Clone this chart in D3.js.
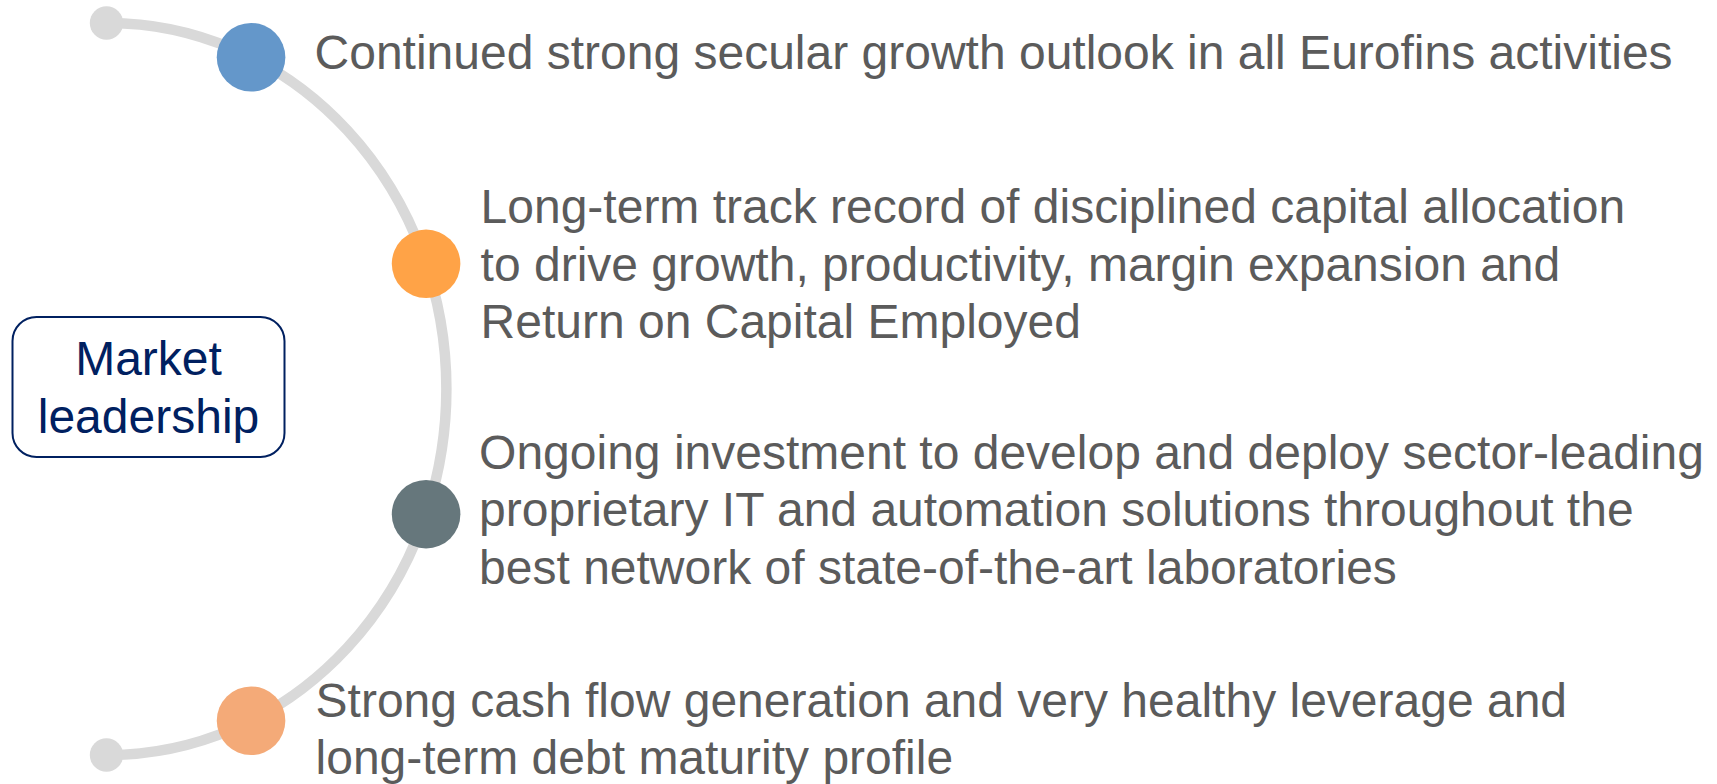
<!DOCTYPE html>
<html>
<head>
<meta charset="utf-8">
<script src="https://cdn.jsdelivr.net/npm/d3@7"></script>
<style>
    html, body { margin: 0; padding: 0; background: #ffffff; }
    svg { display: block; }
    text { font-family: "Liberation Sans", Arial, sans-serif; }
</style>
</head>
<body>
<svg id="chart"></svg>
<script>
// pillars of the arc, top to bottom
const pillars = ['growth', 'capital', 'technology', 'cash'];
const pillarAngles = [65, 20, -20, -65];
const pillarColors = ['#6497ca', '#ffa347', '#66777c', '#f4aa78'];
const pillarLabels = [
    ['Continued strong secular growth outlook in all Eurofins activities'],
    ['Long-term track record of disciplined capital allocation',
     'to drive growth, productivity, margin expansion and',
     'Return on Capital Employed'],
    ['Ongoing investment to develop and deploy sector-leading',
     'proprietary IT and automation solutions throughout the',
     'best network of state-of-the-art laboratories'],
    ['Strong cash flow generation and very healthy leverage and',
     'long-term debt maturity profile']
];
const centerLabel = ['Market', 'leadership'];

const width = 1717;
const height = 784;

const params = {
    arc: { cx: 108, cy: 389, rx: 338.5, ry: 366 },
    dotRadius: 34.3,
    endRadius: 16.7,
    strokeWidth: 10.5,
    fontSize: 48,
    lineHeight: 57.5,
    labelDx: [63.5, 54.5, 53, 64.5],
    labelDy: [-5, -0.5, -5, 7.5],
    box: { x: 12.5, y: 317, width: 272, height: 140, r: 24 }
};

const svg = d3.select('#chart')
    .attr('width', width)
    .attr('height', height);

const { cx, cy, rx, ry } = params.arc;

// angle (deg) -> point on the half ellipse
const toRad = d3.scaleLinear().domain([0, 180]).range([0, Math.PI]);
const px = a => cx + rx * Math.cos(toRad(a));
const py = a => cy - ry * Math.sin(toRad(a));

const g = svg.append('g');

g.append('path')
    .attr('d', `M${px(90)},${py(90)} A${rx},${ry} 0 0 1 ${px(-90)},${py(-90)}`)
    .attr('fill', 'none')
    .attr('stroke', '#d9d9d9')
    .attr('stroke-width', params.strokeWidth);

g.selectAll('circle.end')
    .data([90, -90])
    .enter()
    .append('circle')
    .attr('class', 'end')
    .attr('cx', d => px(d) - 1.5)
    .attr('cy', d => py(d))
    .attr('r', params.endRadius)
    .attr('fill', '#d9d9d9');

const data = pillars.map((name, i) => ({
    name,
    angle: pillarAngles[i],
    color: pillarColors[i],
    lines: pillarLabels[i]
}));

g.selectAll('circle.pillar')
    .data(data)
    .enter()
    .append('circle')
    .attr('class', 'pillar')
    .attr('cx', d => px(d.angle))
    .attr('cy', d => py(d.angle))
    .attr('r', params.dotRadius)
    .attr('fill', d => d.color);

const capHalf = params.fontSize * 0.716 / 2;

const label = g.selectAll('text.label')
    .data(data)
    .enter()
    .append('text')
    .attr('class', 'label')
    .attr('x', (d, i) => px(d.angle) + params.labelDx[i])
    .attr('y', (d, i) => py(d.angle) + capHalf - (d.lines.length - 1) * params.lineHeight / 2 + params.labelDy[i])
    .attr('fill', '#5b5b5b')
    .style('font-size', `${params.fontSize}px`);

label.selectAll('tspan')
    .data(d => d.lines)
    .enter()
    .append('tspan')
    .attr('x', function() { return d3.select(this.parentNode).attr('x'); })
    .attr('dy', (d, i) => i === 0 ? 0 : params.lineHeight)
    .text(d => d);

// centre box
const box = params.box;
g.append('rect')
    .attr('x', box.x)
    .attr('y', box.y)
    .attr('width', box.width)
    .attr('height', box.height)
    .attr('rx', box.r)
    .attr('ry', box.r)
    .attr('fill', '#ffffff')
    .attr('stroke', '#002060')
    .attr('stroke-width', 2);

const boxCy = box.y + box.height / 2;
g.append('text')
    .attr('text-anchor', 'middle')
    .attr('x', box.x + box.width / 2)
    .attr('y', boxCy + capHalf - (centerLabel.length - 1) * params.lineHeight / 2)
    .attr('fill', '#002060')
    .style('font-size', `${params.fontSize}px`)
    .selectAll('tspan')
    .data(centerLabel)
    .enter()
    .append('tspan')
    .attr('x', box.x + box.width / 2)
    .attr('dy', (d, i) => i === 0 ? 0 : params.lineHeight)
    .text(d => d);
</script>
</body>
</html>
